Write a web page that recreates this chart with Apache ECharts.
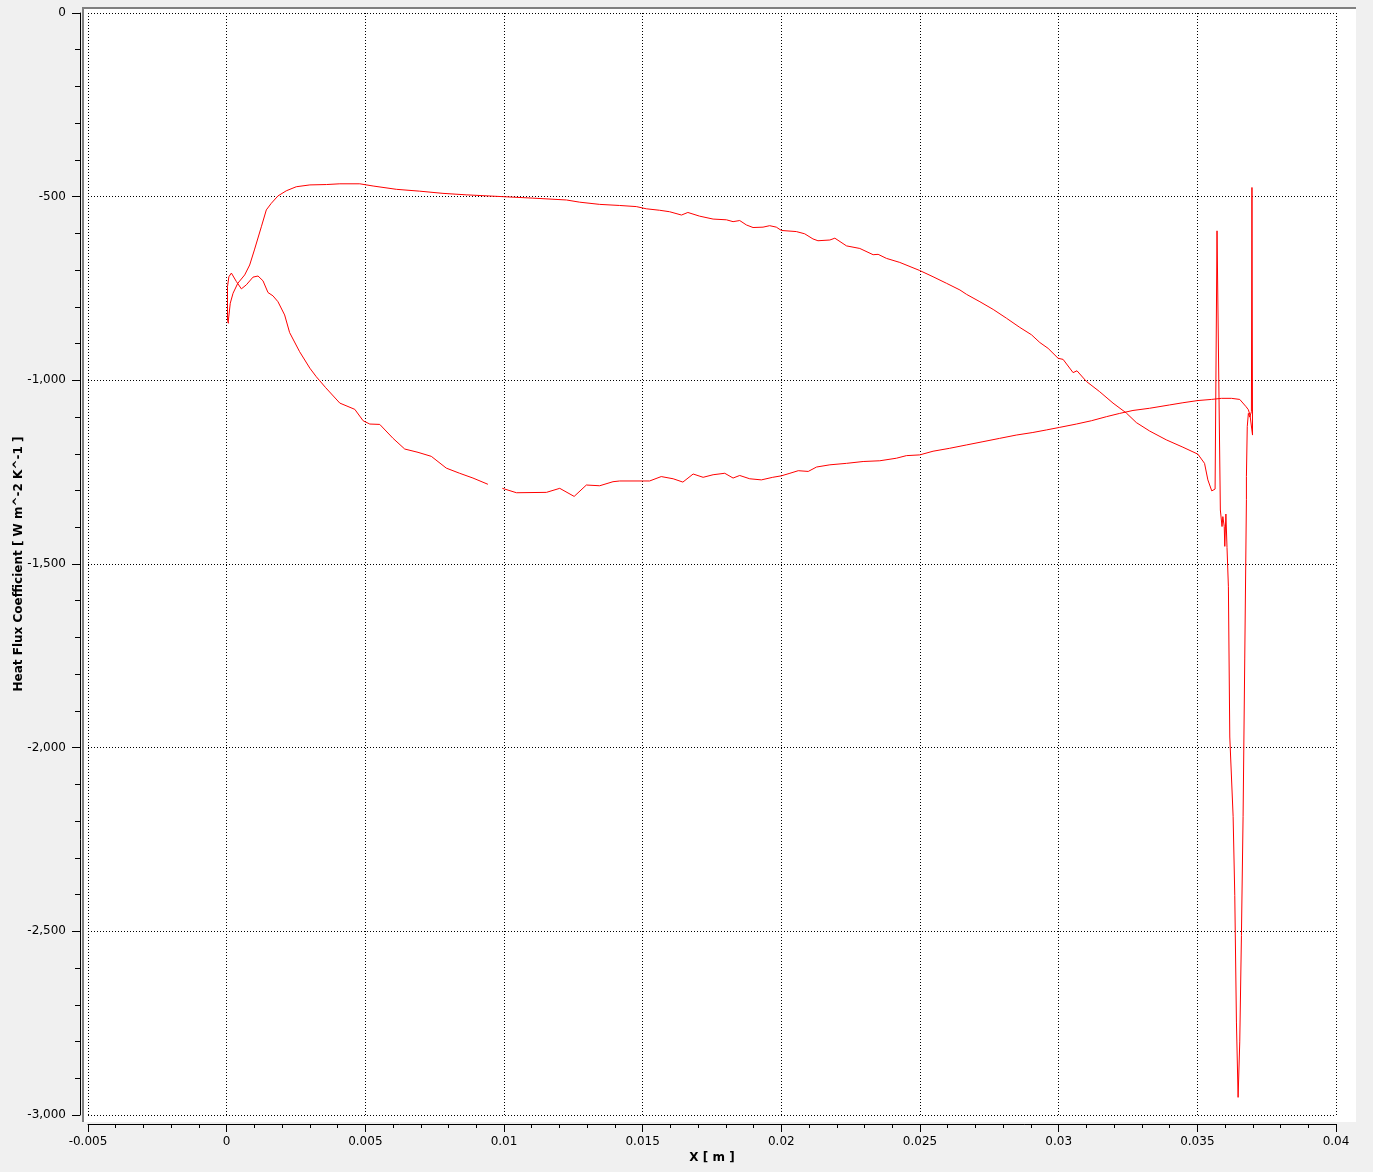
<!DOCTYPE html>
<html>
<head>
<meta charset="utf-8">
<script src="https://cdn.jsdelivr.net/npm/echarts@6/dist/echarts.min.js"></script>
<style>
  html, body { margin: 0; padding: 0; background: #f0f0f0; }
  #chart { width: 1373px; height: 1172px; }
</style>
</head>
<body>
<div id="chart"></div>
<script>
// upper part of the loop, leading edge -> trailing edge
const upperX = [0.00005, 0.00013, 0.00023, 0.0004, 0.00065, 0.00083, 0.001, 0.00125, 0.00143, 0.00161,
  0.00185, 0.00215, 0.00251, 0.003, 0.0036, 0.00408, 0.0048, 0.00528, 0.00612, 0.00696,
  0.0078, 0.00864, 0.00996, 0.01104, 0.01225, 0.01273, 0.01345, 0.01417, 0.01477, 0.01513,
  0.01561, 0.01597, 0.0164, 0.01663, 0.01705, 0.01754, 0.01802, 0.01826, 0.0185, 0.01874,
  0.01898, 0.01934, 0.01958, 0.01982, 0.02, 0.02054, 0.02084, 0.02114, 0.02132, 0.02175,
  0.02193, 0.02235, 0.02283, 0.02331, 0.02349, 0.02379, 0.02427, 0.02499, 0.02547, 0.02596,
  0.02644, 0.02668, 0.02716, 0.02764, 0.02812, 0.0286, 0.02902, 0.02932, 0.02962, 0.02998,
  0.03016, 0.03052, 0.03066, 0.031, 0.03148, 0.03196, 0.03244, 0.0328, 0.03328, 0.03388,
  0.03448, 0.03502];
const upperY = [-844, -790, -763, -736, -713, -686, -645, -582, -536, -518,
  -498, -484, -473, -468, -467, -465, -465, -471, -480, -485,
  -491, -495, -500, -504, -509, -515, -521, -524, -527, -533,
  -537, -541, -550, -543, -553, -561, -563, -568, -565, -577,
  -584, -583, -579, -583, -592, -595, -601, -615, -620, -618,
  -613, -634, -641, -658, -657, -668, -679, -701, -718, -736,
  -754, -766, -786, -807, -831, -856, -876, -897, -913, -940,
  -943, -979, -974, -1003, -1031, -1062, -1089, -1115, -1138, -1162,
  -1182, -1201];

// trailing edge region with the spikes
const trailX = [0.03526, 0.03538, 0.03552, 0.03564, 0.03571, 0.03583, 0.03589, 0.03592, 0.03597, 0.03599,
  0.03603, 0.03607, 0.03612, 0.03617, 0.03629, 0.03635, 0.03641, 0.03647, 0.03653, 0.03659,
  0.03665, 0.03671, 0.03677, 0.03677, 0.0368, 0.03684, 0.03689, 0.03695, 0.03697, 0.03699,
  0.0369, 0.03684, 0.03676];
const trailY = [-1226, -1271, -1301, -1296, -593, -1353, -1398, -1371, -1398, -1452,
  -1364, -1455, -1562, -1971, -2187, -2402, -2747, -2952, -2801, -2511,
  -2187, -1756, -1325, -1262, -1126, -1090, -1100, -1085, -475, -1149,
  -1095, -1080, -1072];

// lower part of the loop, trailing edge -> leading edge (null = gap in the curve)
const lowerX = [0.03671, 0.03653, 0.03623, 0.03587, 0.03551, 0.03502, 0.03448, 0.034, 0.03328, 0.03268,
  0.0322, 0.03172, 0.03118, 0.03064, 0.03004, 0.02956, 0.02907, 0.02847, 0.02787, 0.02727,
  0.02667, 0.02607, 0.02547, 0.02499, 0.02451, 0.02415, 0.02355, 0.02295, 0.02235, 0.02175,
  0.02127, 0.02097, 0.02061, 0.02031, 0.02, 0.01969, 0.01928, 0.01886, 0.0185, 0.01826,
  0.01796, 0.01754, 0.01718, 0.01682, 0.01645, 0.0161, 0.01567, 0.01525, 0.01501, 0.01417,
  0.01393, 0.01345, 0.01297, 0.01253, 0.01201, 0.01153, 0.01045, 0.00994, 0.0097, 0.00942,
  0.00888, 0.0084, 0.00792, 0.00738, 0.0069, 0.00642, 0.006, 0.00552, 0.00516, 0.00492,
  0.00462, 0.00408, 0.00357, 0.00323, 0.003, 0.00263, 0.00227, 0.00209, 0.00185, 0.00167,
  0.00149, 0.00131, 0.00113, 0.00095, 0.00071, 0.00053, 0.00035, 0.00017, 0.00008, 0.00003,
  0.00003, 0.00007];
const lowerY = [-1067, -1052, -1049, -1049, -1052, -1055, -1061, -1067, -1076, -1082,
  -1090, -1099, -1110, -1119, -1128, -1135, -1142, -1149, -1158, -1167,
  -1176, -1185, -1193, -1203, -1205, -1212, -1219, -1221, -1226, -1230,
  -1236, -1248, -1246, -1253, -1260, -1264, -1271, -1268, -1259, -1266,
  -1253, -1257, -1264, -1255, -1277, -1268, -1262, -1274, -1274, -1274,
  -1276, -1287, -1285, -1316, -1294, -1305, -1306, -1294, null, -1283,
  -1266, -1253, -1239, -1207, -1196, -1187, -1158, -1120, -1119, -1110,
  -1079, -1062, -1020, -990, -967, -922, -870, -822, -786, -770,
  -761, -729, -716, -719, -740, -751, -731, -708, -718, -745,
  -836, -845];

const xValues = upperX.concat(trailX, lowerX);
const yValues = upperY.concat(trailY, lowerY);

const fontFamily = "DejaVu Sans";

const chart = echarts.init(document.getElementById("chart"));

const option = {
  animation: false,
  backgroundColor: "#f0f0f0",
  graphic: [
    {
      type: "rect",
      z: -10,
      shape: { x: 83, y: 8, width: 1273, height: 1114 },
      style: { fill: "#ffffff" },
      silent: true,
    },
    {
      type: "line",
      z: -9,
      shape: { x1: 83, y1: 7, x2: 83, y2: 1122 },
      style: { stroke: "#808080", lineWidth: 2 },
      silent: true,
    },
    {
      type: "line",
      z: -9,
      shape: { x1: 82, y1: 8, x2: 1356, y2: 8 },
      style: { stroke: "#808080", lineWidth: 2 },
      silent: true,
    },
  ],
  grid: {
    left: 88,
    right: 37,
    top: 13,
    bottom: 57,
    outerBoundsMode: "none",
    containLabel: false,
  },
  xAxis: {
    type: "value",
    min: -0.005,
    max: 0.04,
    interval: 0.005,
    offset: 9,
    name: "X [ m ]",
    nameLocation: "middle",
    nameGap: 28,
    nameMoveOverlap: false,
    nameTextStyle: { fontFamily, fontSize: 12, fontWeight: "bold", color: "#000" },
    axisLine: { onZero: false, lineStyle: { color: "#000", width: 1 } },
    axisTick: { length: 8, lineStyle: { color: "#000" } },
    minorTick: { show: true, splitNumber: 5, length: 4, lineStyle: { color: "#000" } },
    axisLabel: { fontFamily, fontSize: 12, color: "#000", margin: 12 },
    splitLine: { show: true, lineStyle: { color: "#000", type: [1, 2], width: 1 } },
  },
  yAxis: {
    type: "value",
    min: -3000,
    max: 0,
    interval: 500,
    offset: 8,
    name: "Heat Flux Coefficient [ W m^-2 K^-1 ]",
    nameLocation: "middle",
    nameGap: 55,
    nameMoveOverlap: false,
    nameTextStyle: { fontFamily, fontSize: 12, fontWeight: "bold", color: "#000" },
    axisLine: { show: true, onZero: false, lineStyle: { color: "#000", width: 1 } },
    axisTick: { show: true, length: 8, lineStyle: { color: "#000" } },
    minorTick: { show: true, splitNumber: 5, length: 5, lineStyle: { color: "#000" } },
    axisLabel: { fontFamily, fontSize: 12, color: "#000", margin: 14 },
    splitLine: { show: true, lineStyle: { color: "#000", type: [1, 2], width: 1 } },
  },
  series: [
    {
      name: "Heat Flux Coefficient",
      type: "line",
      showSymbol: false,
      symbol: "none",
      connectNulls: false,
      lineStyle: { color: "#ff0000", width: 1 },
      data: xValues.map((x, i) => [x, yValues[i]]),
    },
  ],
};

chart.setOption(option);
</script>
</body>
</html>
